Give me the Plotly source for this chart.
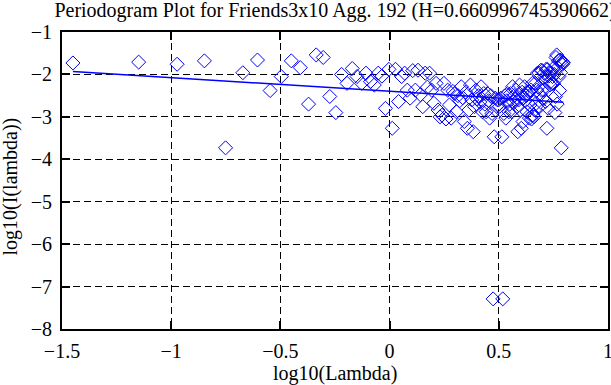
import plotly.graph_objects as go

# log10(Lambda) for the low-frequency half (k = 1..88)
x_low = [-1.450, -1.149, -0.973, -0.848, -0.751, -0.672, -0.605, -0.547, -0.496, -0.450,
         -0.409, -0.371, -0.336, -0.304, -0.274, -0.246, -0.220, -0.195, -0.171, -0.149,
         -0.128, -0.108, -0.088, -0.070, -0.052, -0.035, -0.019, -0.003, 0.012, 0.027,
         0.041, 0.055, 0.069, 0.081, 0.094, 0.106, 0.118, 0.130, 0.141, 0.152,
         0.163, 0.173, 0.183, 0.193, 0.203, 0.213, 0.222, 0.231, 0.240, 0.249,
         0.258, 0.266, 0.274, 0.282, 0.290, 0.298, 0.306, 0.313, 0.321, 0.328,
         0.335, 0.342, 0.349, 0.356, 0.363, 0.370, 0.376, 0.383, 0.389, 0.395,
         0.401, 0.407, 0.413, 0.419, 0.425, 0.431, 0.436, 0.442, 0.448, 0.453,
         0.458, 0.464, 0.469, 0.474, 0.479, 0.484, 0.490, 0.494]
y_low = [-1.73, -1.71, -1.76, -1.68, -3.73, -1.96, -1.66, -2.38, -2.05, -1.68,
         -1.84, -2.70, -1.54, -1.60, -2.52, -2.90, -2.00, -2.21, -1.86, -2.05,
         -2.21, -1.97, -2.17, -2.25, -1.97, -2.04, -2.80, -1.88, -3.27, -1.88,
         -2.64, -2.05, -1.97, -2.37, -2.56, -1.91, -2.37, -1.90, -2.48, -2.76,
         -1.97, -2.30, -1.97, -2.37, -2.68, -2.21, -2.84, -3.00, -2.96, -2.21,
         -3.05, -2.37, -2.72, -3.03, -2.40, -2.45, -2.88, -2.50, -2.62, -2.29,
         -2.55, -3.11, -2.42, -3.27, -2.84, -2.25, -2.60, -3.35, -2.76, -2.37,
         -2.58, -2.50, -2.65, -2.29, -2.88, -2.45, -2.70, -2.88, -2.45, -2.62,
         -3.03, -2.50, -2.92, -7.29, -3.47, -2.56, -2.75, -2.60]

# log10(Lambda) for the high-frequency half (k = 89..176)
x_high = [0.499, 0.504, 0.509, 0.514, 0.518, 0.523, 0.528, 0.532, 0.537, 0.541,
          0.546, 0.550, 0.554, 0.559, 0.563, 0.567, 0.571, 0.575, 0.579, 0.583,
          0.587, 0.591, 0.595, 0.599, 0.603, 0.607, 0.611, 0.614, 0.618, 0.622,
          0.626, 0.629, 0.633, 0.636, 0.640, 0.643, 0.647, 0.650, 0.654, 0.657,
          0.661, 0.664, 0.667, 0.671, 0.674, 0.677, 0.680, 0.684, 0.687, 0.690,
          0.693, 0.696, 0.699, 0.702, 0.705, 0.708, 0.711, 0.714, 0.717, 0.720,
          0.723, 0.726, 0.729, 0.732, 0.735, 0.738, 0.740, 0.743, 0.746, 0.749,
          0.751, 0.754, 0.757, 0.760, 0.762, 0.765, 0.767, 0.770, 0.773, 0.775,
          0.778, 0.780, 0.783, 0.786, 0.788, 0.791, 0.793, 0.796]
y_high = [-2.60, -2.75, -2.56, -3.47, -7.29, -2.92, -2.50, -3.03, -2.62, -2.45,
          -2.88, -2.70, -2.45, -2.88, -2.29, -2.65, -2.50, -2.58, -2.37, -2.76,
          -3.35, -2.60, -2.25, -2.84, -3.27, -2.42, -3.11, -2.55, -2.29, -2.62,
          -2.50, -2.88, -2.45, -2.40, -3.03, -2.72, -2.37, -3.05, -2.21, -2.96,
          -3.00, -2.84, -2.21, -2.68, -2.37, -1.97, -2.30, -1.97, -2.76, -2.48,
          -1.90, -2.37, -1.91, -2.56, -2.37, -1.97, -2.05, -2.64, -1.88, -3.27,
          -1.88, -2.80, -2.04, -1.97, -2.25, -2.17, -1.97, -2.21, -2.05, -1.86,
          -2.21, -2.00, -2.90, -2.52, -1.60, -1.54, -2.70, -1.84, -1.68, -2.05,
          -2.38, -1.66, -1.96, -3.73, -1.68, -1.76, -1.71, -1.73]

# least-squares fit line endpoints
fit_x = [-1.450, 0.796]
fit_y = [-1.933, -2.653]

x_ticks = [-1.5, -1, -0.5, 0, 0.5, 1]
y_ticks = [-8, -7, -6, -5, -4, -3, -2, -1]

title_text = "Periodogram Plot for Friends3x10 Agg. 192 (H=0.660996745390662)"
FONT = "Liberation Serif"
FS = 20

fig = go.Figure()
fig.add_trace(go.Scatter(
    x=x_low + x_high, y=y_low + y_high, mode="markers",
    marker=dict(symbol="diamond-open", size=10.8, color="#0000ff",
                line=dict(width=1, color="#0000ff")),
    showlegend=False, cliponaxis=False))
fig.add_trace(go.Scatter(
    x=fit_x, y=fit_y, mode="lines",
    line=dict(color="#0000ff", width=1.5), showlegend=False))

axis_common = dict(
    showline=True, linecolor="black", linewidth=2, mirror="ticks",
    ticks="inside", ticklen=8, tickwidth=2, tickcolor="black",
    showgrid=True, gridcolor="black", gridwidth=1, griddash="7px,4px",
    zeroline=False, tickfont=dict(family=FONT, size=FS, color="black"),
    ticklabeloverflow="allow",
)

fig.update_xaxes(range=[-1.5, 1], tickvals=x_ticks, ticklabelstandoff=3, **axis_common)
fig.update_yaxes(range=[-8, -1], tickvals=y_ticks, ticklabelstandoff=4, **axis_common)

fig.update_layout(
    width=611, height=385,
    margin=dict(l=62, r=3, t=32, b=56, autoexpand=False),
    plot_bgcolor="white", paper_bgcolor="white",
    font=dict(family=FONT, size=FS, color="black"),
    title=dict(text=title_text, x=0.5, xref="paper", xanchor="center",
               y=0.992, yref="container", yanchor="top", pad=dict(t=0),
               font=dict(family=FONT, size=FS, color="black")),
    annotations=[
        dict(text="log10(Lambda)", x=0.5, y=0, xref="paper", yref="paper",
             xanchor="center", yanchor="middle", yshift=-44, showarrow=False,
             font=dict(family=FONT, size=FS, color="black")),
        dict(text="log10(I(lambda))", x=0, y=0.48, xref="paper", yref="paper",
             xanchor="center", yanchor="middle", xshift=-52, textangle=-90,
             showarrow=False, font=dict(family=FONT, size=FS, color="black")),
    ],
)

fig.write_html("out.html", config={"displayModeBar": False},
               post_script="document.body.style.margin='0';document.body.style.overflow='hidden';")
